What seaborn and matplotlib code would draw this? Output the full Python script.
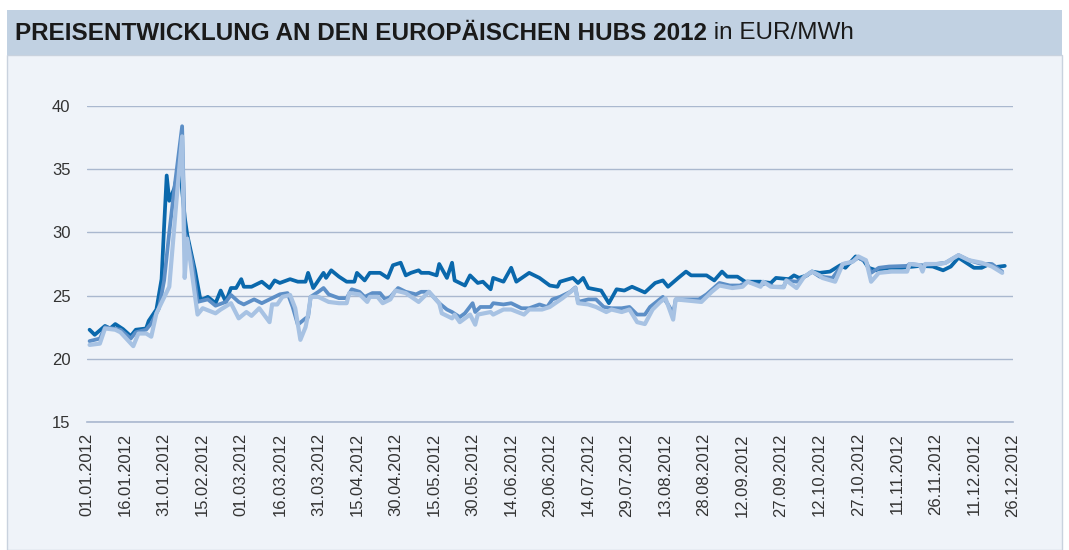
import matplotlib
matplotlib.use("Agg")
import matplotlib.pyplot as plt
import matplotlib.dates as mdates
from matplotlib.patches import Rectangle
import pandas as pd
import seaborn as sns

# day offsets from 01.01.2012 and prices in EUR/MWh
dark_days = [1, 3, 7, 9, 11, 14, 17, 19, 23, 24, 27, 29, 30, 31, 32, 34, 36, 38, 39, 42,
             44, 45, 47, 50, 52, 54, 56, 58, 60, 61, 64, 68, 71, 73, 75, 79, 82, 85, 86, 88,
             90, 92, 93, 95, 98, 101, 104, 105, 108, 110, 114, 117, 119, 122, 124, 126, 129, 130, 133, 136,
             137, 140, 142, 143, 147, 149, 152, 154, 157, 158, 162, 165, 167, 172, 176, 180, 183, 184, 189, 191,
             193, 195, 200, 203, 206, 209, 212, 217, 221, 224, 226, 230, 233, 235, 241, 244, 247, 249, 253, 256,
             262, 266, 268, 273, 275, 277, 280, 282, 285, 289, 293, 295, 299, 302, 304, 307, 312, 317, 324, 329,
             333, 336, 339, 342, 345, 348, 351, 353, 357]
dark_vals = [22.3, 21.9, 22.6, 22.4, 22.75, 22.35, 21.8, 22.3, 22.4, 23.0,
             23.9, 26.3, 30.5, 34.5, 32.5, 33.5, 35.5, 31.2, 29.8, 27.0,
             24.8, 24.7, 24.9, 24.4, 25.4, 24.5, 25.6, 25.6, 26.3, 25.7,
             25.7, 26.1, 25.6, 26.2, 26.0, 26.3, 26.1, 26.1, 26.8, 25.6,
             26.2, 26.8, 26.4, 27.0, 26.5, 26.1, 26.1, 26.8, 26.2, 26.8,
             26.8, 26.4, 27.4, 27.6, 26.6, 26.8, 27.0, 26.8, 26.8, 26.6,
             27.5, 26.4, 27.6, 26.2, 25.8, 26.6, 26.0, 26.1, 25.5, 26.4,
             26.1, 27.2, 26.1, 26.8, 26.4, 25.8, 25.7, 26.1, 26.4, 26.0,
             26.4, 25.6, 25.4, 24.4, 25.5, 25.4, 25.7, 25.25, 26.0, 26.2,
             25.7, 26.4, 26.9, 26.6, 26.6, 26.2, 26.9, 26.5, 26.5, 26.1,
             26.1, 26.0, 26.4, 26.3, 26.6, 26.4, 26.6, 26.9, 26.8, 26.9,
             27.4, 27.2, 28.1, 27.8, 27.2, 27.0, 27.2, 27.2, 27.35, 27.3,
             27.0, 27.3, 28.0, 27.6, 27.2, 27.2, 27.5, 27.25, 27.35]

mid_days = [1, 5, 7, 10, 13, 17, 19, 23, 25, 28, 30, 32, 34, 37, 38, 39, 41, 43, 47, 50,
            54, 56, 59, 61, 65, 68, 71, 75, 78, 80, 82, 85, 86, 87, 90, 92, 94, 98, 101, 103,
            106, 108, 111, 114, 116, 118, 121, 124, 128, 130, 133, 137, 140, 142, 145, 147, 150, 151, 153, 157,
            158, 162, 165, 169, 172, 176, 179, 181, 184, 188, 190, 191, 195, 198, 201, 204, 208, 211, 214, 217,
            219, 224, 226, 228, 229, 233, 238, 241, 246, 250, 254, 257, 262, 264, 267, 271, 272, 276, 280, 282,
            285, 290, 294, 297, 300, 303, 305, 308, 312, 319, 320, 325, 330, 334, 339, 343, 348, 352, 356]
mid_vals = [21.4, 21.6, 22.5, 22.4, 22.3, 21.6, 22.1, 22.3, 22.8, 24.0,
            26.2, 30.0, 33.5, 38.4, 30.0, 29.4, 27.6, 24.5, 24.7, 24.2,
            24.5, 25.05, 24.5, 24.3, 24.7, 24.4, 24.7, 25.1, 25.2, 24.1,
            22.7, 23.2, 23.3, 24.9, 25.3, 25.6, 25.1, 24.8, 24.8, 25.5,
            25.3, 24.9, 25.2, 25.2, 24.7, 24.9, 25.6, 25.3, 25.1, 25.3,
            25.3, 24.4, 23.9, 23.7, 23.3, 23.6, 24.4, 23.7, 24.1, 24.1,
            24.4, 24.3, 24.4, 24.0, 24.0, 24.3, 24.1, 24.7, 24.9, 25.3,
            25.65, 24.5, 24.7, 24.7, 24.1, 24.0, 24.0, 24.1, 23.5, 23.5,
            24.1, 24.9, 24.3, 23.6, 24.7, 24.7, 24.7, 25.1, 26.0, 25.8,
            25.8, 26.1, 25.8, 26.0, 25.7, 25.7, 26.2, 26.1, 26.6, 26.9,
            26.5, 26.4, 27.5, 27.6, 28.0, 27.7, 26.8, 27.2, 27.3, 27.35,
            27.5, 27.4, 27.5, 27.6, 28.2, 27.8, 27.5, 27.5, 26.9]

light_days = [1, 5, 7, 11, 13, 18, 20, 23, 25, 27, 32, 35, 37, 38, 39, 43, 45, 50, 52, 56,
              59, 62, 64, 67, 71, 72, 74, 76, 79, 81, 83, 85, 86, 87, 90, 94, 98, 101, 102, 106,
              109, 110, 113, 115, 118, 120, 124, 129, 133, 137, 138, 142, 143, 145, 149, 151, 152, 157, 158, 162,
              165, 170, 172, 177, 180, 185, 190, 191, 195, 198, 202, 204, 208, 211, 214, 217, 220, 223, 225, 228,
              229, 239, 243, 246, 251, 255, 257, 262, 263, 266, 271, 272, 276, 279, 282, 285, 286, 291, 294, 298,
              300, 303, 305, 308, 313, 319, 320, 324, 325, 326, 332, 334, 339, 343, 348, 352, 356]
light_vals = [21.1, 21.2, 22.4, 22.3, 22.1, 21.0, 22.0, 22.0, 21.75, 23.6,
              25.7, 33.0, 37.6, 26.4, 29.5, 23.5, 24.0, 23.6, 23.9, 24.4,
              23.2, 23.7, 23.4, 24.0, 22.9, 24.3, 24.3, 24.9, 25.05, 24.0,
              21.5, 22.5, 23.5, 24.9, 24.9, 24.5, 24.4, 24.4, 25.2, 25.1,
              24.5, 24.9, 24.9, 24.4, 24.7, 25.4, 25.2, 24.5, 25.3, 24.4,
              23.6, 23.2, 23.5, 22.9, 23.5, 22.7, 23.5, 23.7, 23.5, 23.9,
              23.9, 23.5, 23.9, 23.9, 24.1, 24.8, 25.6, 24.4, 24.3, 24.1,
              23.7, 23.9, 23.7, 23.9, 22.9, 22.75, 23.9, 24.5, 24.8, 23.1,
              24.7, 24.5, 25.3, 25.8, 25.6, 25.7, 26.1, 25.7, 26.1, 25.7,
              25.65, 26.2, 25.6, 26.5, 26.9, 26.6, 26.4, 26.1, 27.5, 27.7,
              28.1, 27.8, 26.1, 26.8, 26.9, 26.9, 27.5, 27.4, 26.9, 27.5,
              27.5, 27.6, 28.2, 27.8, 27.6, 27.3, 26.8]

y_ticks = [15, 20, 25, 30, 35, 40]
title_bold = "PREISENTWICKLUNG AN DEN EUROPÄISCHEN HUBS 2012"
title_unit = " in EUR/MWh"

start = pd.Timestamp("2012-01-01")
tick_dates = pd.date_range(start, "2012-12-26", freq="15D")

PANEL = "#eff3f9"
BAR = "#c1d1e2"
GRID = "#aab8cf"

sns.set_style("white")
plt.rcParams["font.family"] = ["Liberation Sans", "DejaVu Sans"]

fig = plt.figure(figsize=(10.69, 5.5), dpi=100)
fig.patch.set_facecolor("white")
fig.patches.append(Rectangle((7 / 1069, 0), 1055 / 1069, 495 / 550, transform=fig.transFigure,
                             facecolor=PANEL, edgecolor="#c9d2de", lw=1, zorder=-2))
fig.patches.append(Rectangle((7 / 1069, 495 / 550), 1055 / 1069, 45 / 550, transform=fig.transFigure,
                             facecolor=BAR, edgecolor="none", zorder=-2))

ax = fig.add_axes([87 / 1069, 128 / 550, 925.5 / 1069, 316 / 550])
ax.set_facecolor("none")
ax.set_zorder(1)

series = [(dark_days, dark_vals, "#0a68ac", 2.7),
          (mid_days, mid_vals, "#5d8fc7", 2.7),
          (light_days, light_vals, "#a7c2e3", 3.0)]
for days, vals, col, lw in series:
    dates = start + pd.to_timedelta(days, unit="D")
    sns.lineplot(x=dates, y=vals, color=col, lw=lw, ax=ax, solid_joinstyle="round")

ax.set_xlim(start, tick_dates[-1])
ax.set_ylim(15, 40)
ax.set_yticks(y_ticks)
ax.set_xticks(tick_dates)
ax.xaxis.set_major_formatter(mdates.DateFormatter("%d.%m.%Y"))
ax.grid(axis="y", color=GRID, lw=1)
ax.set_axisbelow(True)
for s in ["left", "right", "top"]:
    ax.spines[s].set_visible(False)
ax.spines["bottom"].set_color(GRID)
ax.spines["bottom"].set_linewidth(1.2)
ax.tick_params(axis="x", length=5, color=GRID, width=1.2, rotation=90, labelsize=12,
               labelcolor="#333333", pad=3)
ax.tick_params(axis="y", length=0, labelsize=12, labelcolor="#333333", pad=12)
ax.set_xlabel("")
ax.set_ylabel("")

t1 = fig.text(15 / 1069, 1 - 33 / 550, title_bold, fontsize=17.5, fontweight="bold",
              color="#1a1a1a", va="center")
fig.canvas.draw()
bb = t1.get_window_extent()
fig.text(bb.x1 / fig.bbox.width, 1 - 33 / 550, title_unit, fontsize=17.5,
         color="#1a1a1a", va="center")

fig.savefig("out.png", dpi=100)
